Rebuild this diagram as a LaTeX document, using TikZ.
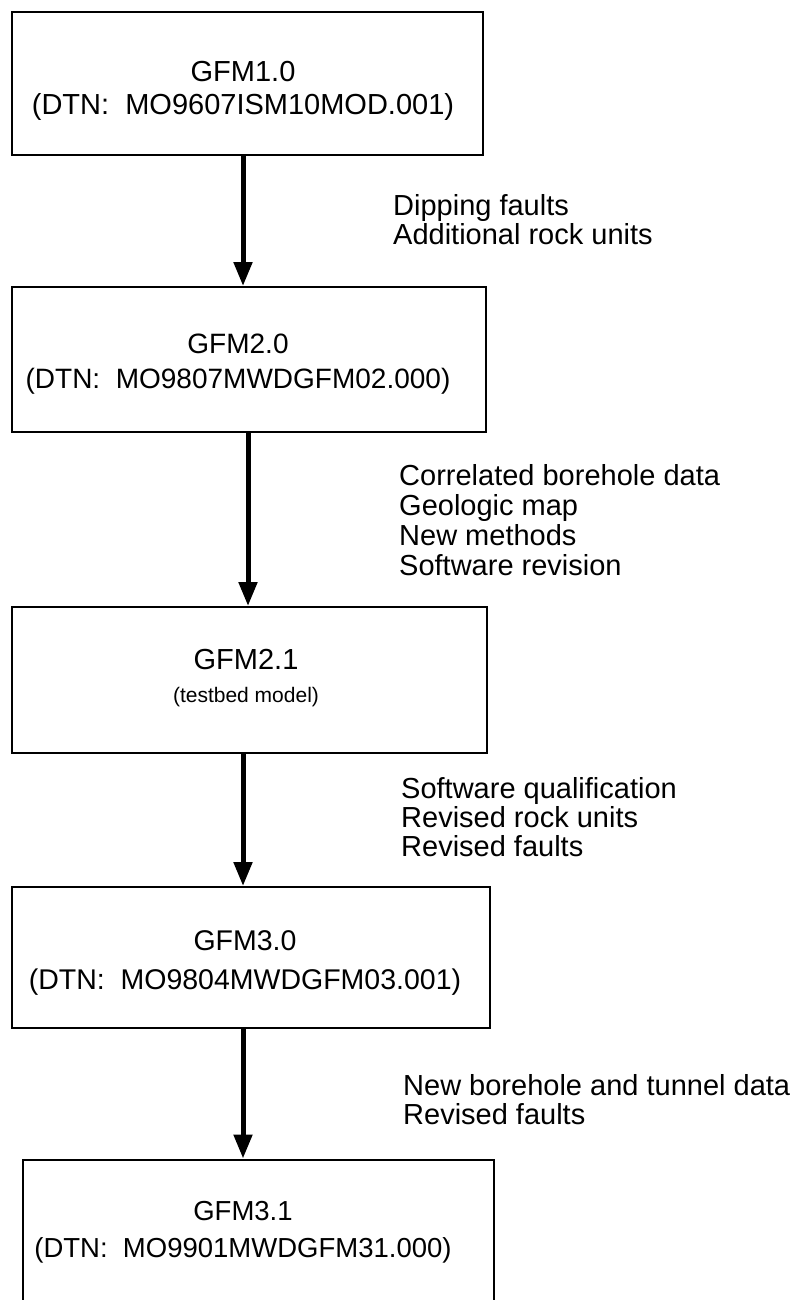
\documentclass[tikz,border=0pt]{standalone}
\usepackage{fontspec}
\setmainfont{Liberation Sans}
\usetikzlibrary{arrows.meta}
\newcommand{\ctext}[3]{\fontsize{#1}{#2}\selectfont\begin{tabular}[t]{@{}c@{}}#3\end{tabular}}
\newcommand{\ltext}[2]{\fontsize{29}{#1}\selectfont\begin{tabular}[t]{@{}l@{}}#2\end{tabular}}
\tikzset{
  box/.style={draw=black, line width=2pt, rectangle, inner sep=0pt},
  txt/.style={inner sep=0pt, anchor=base},
  lbl/.style={inner sep=0pt, anchor=base west},
  arr/.style={line width=5pt, -{Triangle[length=24pt,width=18pt]}}
}
\begin{document}
\begin{tikzpicture}[x=1pt,y=-1pt]
\useasboundingbox (0,0) rectangle (804,1300);
% boxes
\node[box, minimum width=471pt, minimum height=143pt] (b1) at (247.5,84) {};
\node[box, minimum width=474pt, minimum height=145pt] (b2) at (249,359.5) {};
\node[box, minimum width=475pt, minimum height=146pt] (b3) at (249.5,680) {};
\node[box, minimum width=478pt, minimum height=141pt] (b4) at (251,957.5) {};
\node[box, minimum width=471pt, minimum height=141pt] (b5) at (258.5,1230) {};
% box texts
\node[txt] (t1) at (243,82) {\ctext{29}{33}{GFM1.0\\(DTN:\ \ MO9607ISM10MOD.001)}};
\node[txt] (t2) at (238,353) {\ctext{28}{35}{GFM2.0\\(DTN:\ \ MO9807MWDGFM02.000)}};
\node[txt] (t3) at (246,669) {\ctext{29}{33}{GFM2.1\\\fontsize{21}{33}\selectfont(testbed model)}};
\node[txt] (t4) at (245,950) {\ctext{28.5}{39}{GFM3.0\\(DTN:\ \ MO9804MWDGFM03.001)}};
\node[txt] (t5) at (243,1220) {\ctext{27.5}{37}{GFM3.1\\(DTN:\ \ MO9901MWDGFM31.000)}};
% labels
\node[lbl] (l1) at (393,215) {\ltext{27.5}{Dipping faults\\Additional rock units}};
\node[lbl] (l2) at (399,485) {\ltext{30}{Correlated borehole data\\Geologic map\\New methods\\Software revision}};
\node[lbl] (l3) at (401,798) {\ltext{27.5}{Software qualification\\Revised rock units\\Revised faults}};
\node[lbl] (l4) at (403,1095) {\ltext{27.5}{New borehole and tunnel data\\Revised faults}};
% arrows
\draw[arr] ([xshift=-4.5pt]b1.south) -- ([xshift=-6pt]b2.north);
\draw[arr] ([xshift=-1pt]b2.south) -- ([xshift=-1.5pt]b3.north);
\draw[arr] ([xshift=-6.5pt]b3.south) -- ([xshift=-8pt]b4.north);
\draw[arr] ([xshift=-8pt]b4.south) -- ([xshift=-15.5pt]b5.north);
\end{tikzpicture}
\end{document}
